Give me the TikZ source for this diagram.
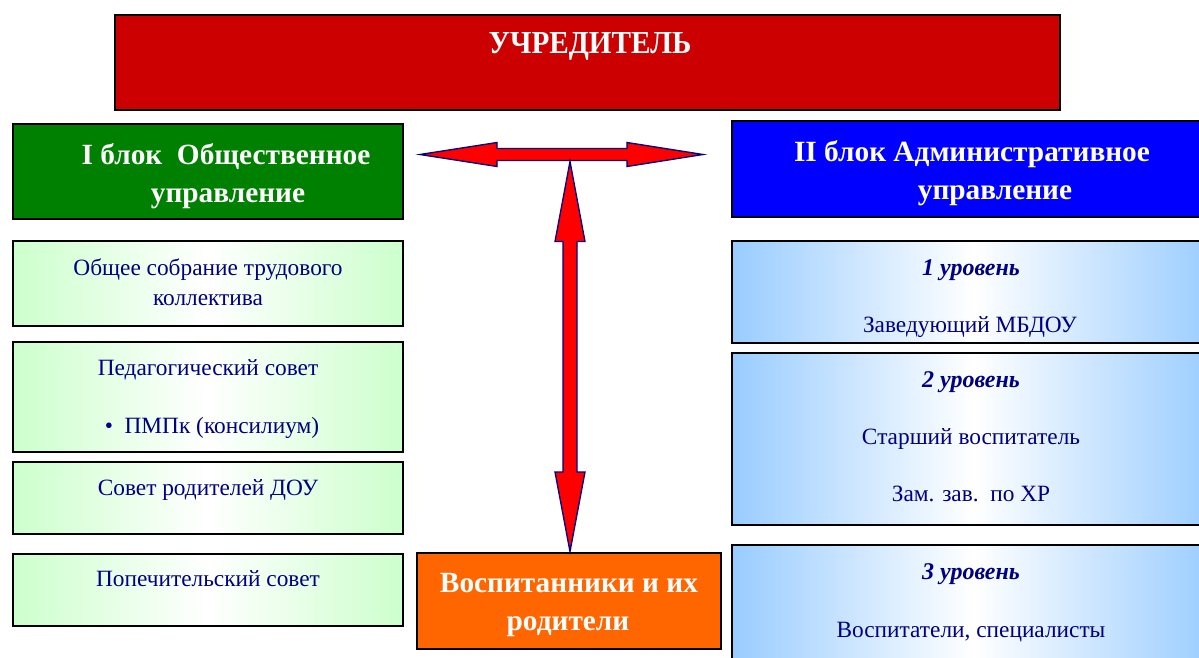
\documentclass[tikz,border=0pt]{standalone}
\usepackage{fontspec}
\setmainfont{Liberation Serif}
\usetikzlibrary{fit}
\definecolor{navy}{HTML}{000080}
\definecolor{redbox}{HTML}{CC0000}
\definecolor{greenbox}{HTML}{008000}
\definecolor{bluebox}{HTML}{0000FF}
\definecolor{orangebox}{HTML}{FF6600}
\definecolor{lgreen}{HTML}{CCFFCC}
\definecolor{lblue}{HTML}{99CCFF}
\definecolor{arrowred}{HTML}{FF0000}
\begin{document}
\begin{tikzpicture}[x=0.75pt,y=-0.75pt,
  box/.style={draw=black,line width=1.5pt,inner sep=0pt},
  solidbox/.style={box,fill=#1},
  gbox/.style={box,left color=lgreen,right color=lgreen,middle color=white},
  bbox/.style={box,left color=lblue,right color=lblue,middle color=white},
  head/.style={anchor=base,text=white,font=\fontsize{22}{26}\selectfont\bfseries,inner sep=0pt},
  body/.style={anchor=base,text=navy,font=\fontsize{17.5}{21}\selectfont,inner sep=0pt},
  lvl/.style={anchor=base,text=navy,font=\fontsize{18}{21}\selectfont\bfseries\itshape,inner sep=0pt},
  bigarrow/.style={fill=arrowred,draw=navy,line width=1pt,line join=miter}]
\useasboundingbox (0,0) rectangle (1199,657);
\clip (0,0) rectangle (1199,657);
\fill[white] (0,0) rectangle (1199,657);

% top box
\node[solidbox=redbox,fit={(115,15) (1060,110)}] (uchr) {};
\node[anchor=base,text=white,inner sep=0pt] (uchrt) at (590,53)
  {\resizebox{152pt}{15.75pt}{\bfseries УЧРЕДИТЕЛЬ}};

% block headers
\node[solidbox=greenbox,fit={(13,124) (403,219)}] (blk1) {};
\node[head] (blk1a) at (226,164) {I блок\ \ Общественное};
\node[head] (blk1b) at (228,202) {управление};

\node[solidbox=bluebox,fit={(732,121) (1215,217)}] (blk2) {};
\node[head] (blk2a) at (972,161) {II блок Административное};
\node[head] (blk2b) at (995,199) {управление};

% left boxes
\node[gbox,fit={(13,241) (403,326)}] (l1) {};
\node[body] (l1a) at (208,275) {Общее собрание трудового};
\node[body] (l1b) at (208,305) {коллектива};

\node[gbox,fit={(13,342) (403,452)}] (l2) {};
\node[body] (l2a) at (208,375) {Педагогический совет};
\node[body] (l2b) at (212,433) {•\ \ ПМПк (консилиум)};

\node[gbox,fit={(13,462) (403,534)}] (l3) {};
\node[body] (l3a) at (208,495) {Совет родителей ДОУ};

\node[gbox,fit={(13,554) (403,626)}] (l4) {};
\node[body] (l4a) at (208,586) {Попечительский совет};

% right boxes
\node[bbox,fit={(732,241) (1215,343)}] (r1) {};
\node[lvl] (r1a) at (971,275) {1 уровень};
\node[body] (r1b) at (970,332) {Заведующий МБДОУ};

\node[bbox,fit={(732,353) (1215,525)}] (r2) {};
\node[lvl] (r2a) at (971,387) {2 уровень};
\node[body] (r2b) at (971,444) {Старший воспитатель};
\node[body] (r2c) at (971,501) {Зам. зав.\ \ по ХР};

\node[bbox,fit={(732,545) (1215,670)}] (r3) {};
\node[lvl] (r3a) at (971,579) {3 уровень};
\node[body] (r3b) at (971,637) {Воспитатели, специалисты};

% bottom box
\node[solidbox=orangebox,fit={(417,553) (721,649)}] (vosp) {};
\node[head] (vospa) at (569,592) {Воспитанники и их};
\node[head] (vospb) at (568,630) {родители};

% arrows
\coordinate (hl) at (420,154.5);
\coordinate (hr) at (703,154.5);
\coordinate (vt) at (570,161.5);
\coordinate (vb) at (570,551.5);
\draw[bigarrow] (hl) -- (497,142.5) -- (497,148.5) -- (627,148.5) -- (627,142.5) -- (hr)
  -- (627,166.5) -- (627,160.5) -- (497,160.5) -- (497,166.5) -- cycle;
\draw[bigarrow] (vt) -- (585,241.5) -- (577,241.5) -- (577,472) -- (585,472) -- (vb)
  -- (555,472) -- (563,472) -- (563,241.5) -- (555,241.5) -- cycle;
\end{tikzpicture}
\end{document}
